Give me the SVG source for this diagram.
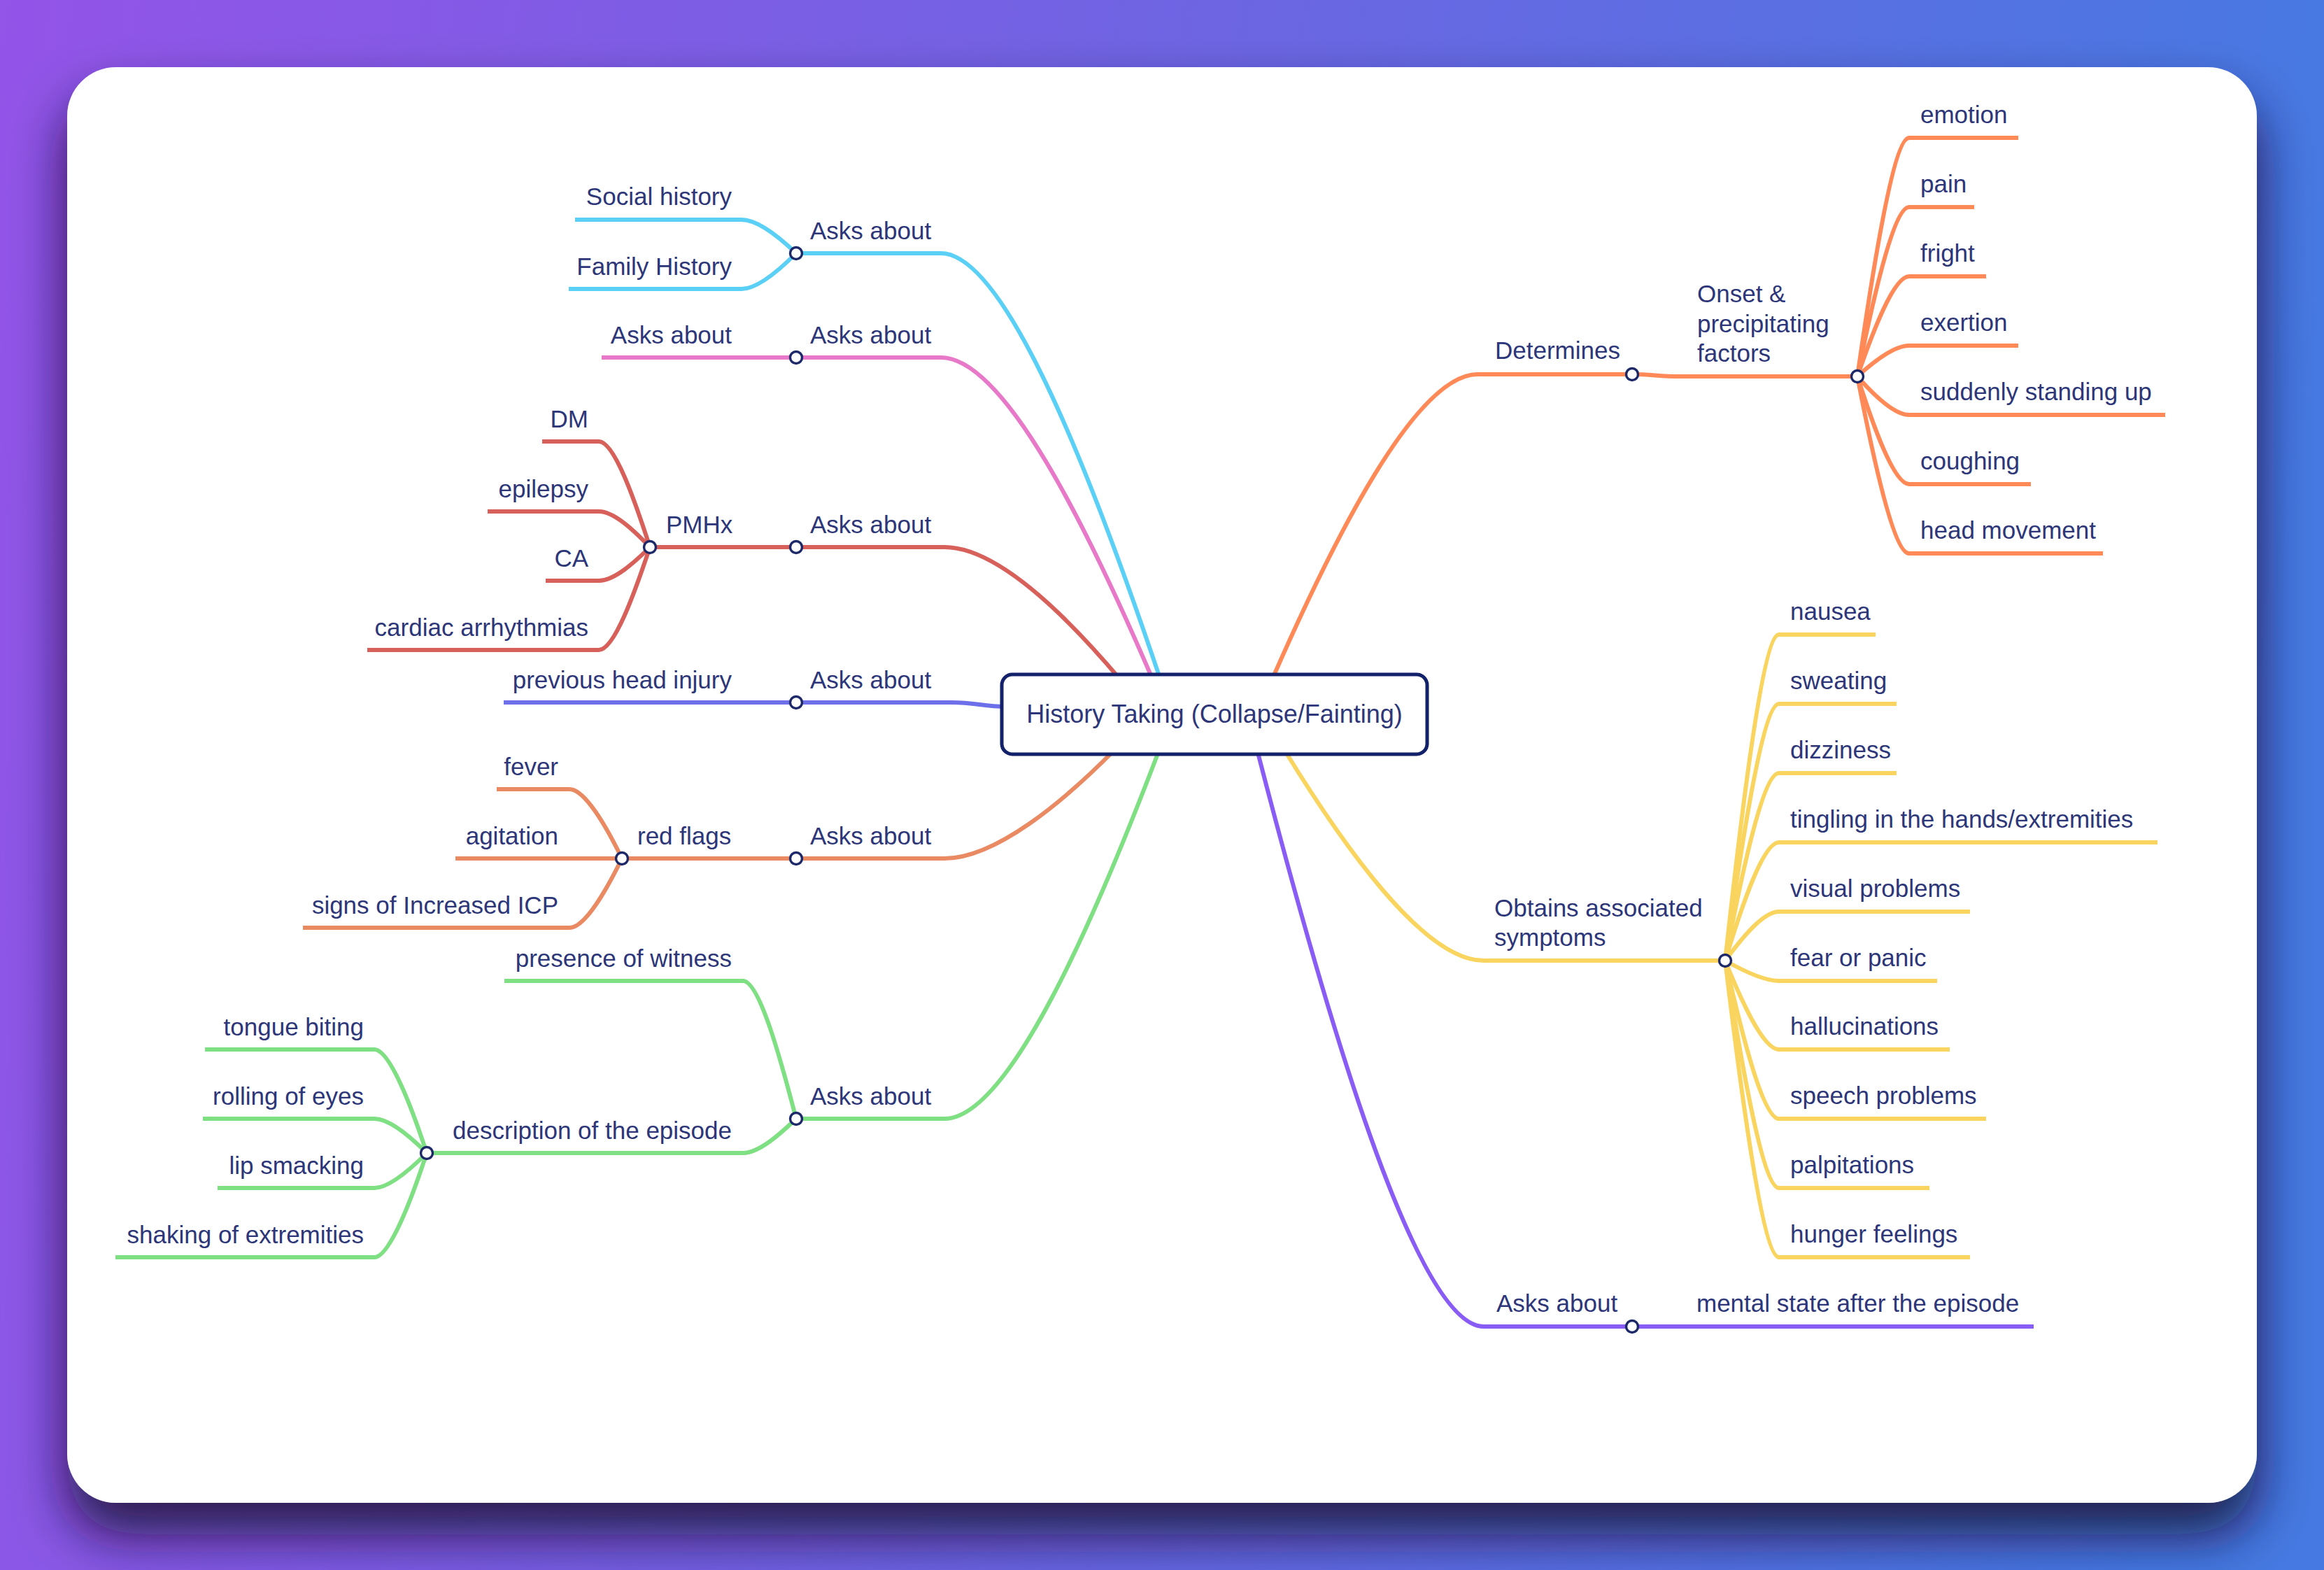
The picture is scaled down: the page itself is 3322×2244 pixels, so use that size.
<svg xmlns="http://www.w3.org/2000/svg" width="3322" height="2244" viewBox="0 0 3322 2244">
<defs>
<linearGradient id="bg" gradientUnits="userSpaceOnUse" x1="0" y1="0" x2="3322" y2="500">
<stop offset="0" stop-color="#9354E8"/>
<stop offset="0.5" stop-color="#6E64E2"/>
<stop offset="1" stop-color="#4679E2"/>
</linearGradient>
<filter id="shadow" x="-10%" y="-10%" width="120%" height="130%">
<feDropShadow dx="0" dy="45" stdDeviation="38" flood-color="#120830" flood-opacity="0.85"/>
</filter>
<style>
.t{font-family:"Liberation Sans",Arial,sans-serif;font-size:35px;fill:#2c3678}
.e{text-anchor:end}
.c{fill:none;stroke-width:6;stroke-linecap:butt;stroke-linejoin:round}
.h{fill:#fff;stroke:#1c2868;stroke-width:3.4}
.blue{stroke:#5AD0F6}.pink{stroke:#E878C8}.red{stroke:#D8605A}.ind{stroke:#6E70EA}
.rf{stroke:#E98A62}.grn{stroke:#7EDF83}.org{stroke:#FF8A57}.yel{stroke:#F9D45E}.pur{stroke:#8A5CF6}
</style>
</defs>
<rect x="0" y="0" width="3322" height="2244" fill="url(#bg)"/>
<rect x="96" y="96" width="3130" height="2052" rx="70" ry="70" fill="#fff" filter="url(#shadow)"/>

<g id="connectors">
<!-- blue -->
<path class="c blue" d="M1138,362 L1345,362 C1439,362 1565,693 1659,972"/>
<path class="c blue" d="M822,314 L1060,314 C1083,314 1115,340 1138,362"/>
<path class="c blue" d="M813,413 L1060,413 C1083,413 1115,385 1138,362"/>
<!-- pink -->
<path class="c pink" d="M860,511 L1345,511 C1436,511 1557,760 1648,972"/>
<!-- red PMHx -->
<path class="c red" d="M929,782 L1350,782 C1426,782 1526,882 1602,972"/>
<path class="c red" d="M775,631 L856,631 C878,631 907,714 929,782"/>
<path class="c red" d="M697,731 L856,731 C878,731 907,759 929,782"/>
<path class="c red" d="M780,830 L856,830 C878,830 907,804 929,782"/>
<path class="c red" d="M525,929 L856,929 C878,929 907,848 929,782"/>
<!-- indigo -->
<path class="c ind" d="M720,1004 L1360,1004 C1395,1004 1405,1010 1438,1010"/>
<!-- red flags -->
<path class="c rf" d="M651,1227 L1350,1227 C1423,1227 1520,1146 1593,1072"/>
<path class="c rf" d="M710,1128 L814,1128 C836,1128 867,1182 889,1227"/>
<path class="c rf" d="M433,1326 L814,1326 C836,1326 867,1272 889,1227"/>
<!-- green -->
<path class="c grn" d="M610,1648 L1062,1648 C1085,1648 1115,1621 1138,1599 L1350,1599 C1442,1599 1565,1314 1657,1072"/>
<path class="c grn" d="M721,1402 L1062,1402 C1085,1402 1115,1510 1138,1599"/>
<path class="c grn" d="M293,1500 L535,1500 C557,1500 588,1581 610,1648"/>
<path class="c grn" d="M290,1599 L535,1599 C557,1599 588,1626 610,1648"/>
<path class="c grn" d="M311,1698 L535,1698 C557,1698 588,1670 610,1648"/>
<path class="c grn" d="M165,1797 L535,1797 C557,1797 588,1715 610,1648"/>
<!-- orange right -->
<path class="c org" d="M1818,972 C1906,771 2024,535 2112,535 L2333,535 C2360,535 2372,538 2400,538 L2655,538"/>
<path class="c org" d="M2655,538 C2677,385 2707,197 2729,197 L2885,197"/>
<path class="c org" d="M2655,538 C2677,429 2707,296 2729,296 L2822,296"/>
<path class="c org" d="M2655,538 C2677,474 2707,395 2729,395 L2839,395"/>
<path class="c org" d="M2655,538 C2677,518 2707,494 2729,494 L2885,494"/>
<path class="c org" d="M2655,538 C2677,563 2707,593 2729,593 L3095,593"/>
<path class="c org" d="M2655,538 C2677,607 2707,692 2729,692 L2903,692"/>
<path class="c org" d="M2655,538 C2677,652 2707,791 2729,791 L3006,791"/>
<!-- yellow -->
<path class="c yel" d="M1836,1072 C1922,1212 2036,1373 2121,1373 L2466,1373"/>
<path class="c yel" d="M2466,1373 C2489,1163 2520,907 2543,907 L2681,907"/>
<path class="c yel" d="M2466,1373 C2489,1208 2520,1006 2543,1006 L2711,1006"/>
<path class="c yel" d="M2466,1373 C2489,1252 2520,1105 2543,1105 L2711,1105"/>
<path class="c yel" d="M2466,1373 C2489,1297 2520,1204 2543,1204 L3084,1204"/>
<path class="c yel" d="M2466,1373 C2489,1342 2520,1303 2543,1303 L2816,1303"/>
<path class="c yel" d="M2466,1373 C2489,1386 2520,1402 2543,1402 L2769,1402"/>
<path class="c yel" d="M2466,1373 C2489,1430 2520,1500 2543,1500 L2787,1500"/>
<path class="c yel" d="M2466,1373 C2489,1475 2520,1599 2543,1599 L2839,1599"/>
<path class="c yel" d="M2466,1373 C2489,1519 2520,1698 2543,1698 L2758,1698"/>
<path class="c yel" d="M2466,1373 C2489,1564 2520,1797 2543,1797 L2816,1797"/>
<!-- purple -->
<path class="c pur" d="M1797,1072 C1894,1447 2024,1896 2121,1896 L2907,1896"/>
<g id="handles">
<circle class="h" cx="1138" cy="362" r="8.5"/>
<circle class="h" cx="1138" cy="511" r="8.5"/>
<circle class="h" cx="1138" cy="782" r="8.5"/>
<circle class="h" cx="929" cy="782" r="8.5"/>
<circle class="h" cx="1138" cy="1004" r="8.5"/>
<circle class="h" cx="1138" cy="1227" r="8.5"/>
<circle class="h" cx="889" cy="1227" r="8.5"/>
<circle class="h" cx="1138" cy="1599" r="8.5"/>
<circle class="h" cx="610" cy="1648" r="8.5"/>
<circle class="h" cx="2333" cy="535" r="8.5"/>
<circle class="h" cx="2655" cy="538" r="8.5"/>
<circle class="h" cx="2466" cy="1373" r="8.5"/>
<circle class="h" cx="2333" cy="1896" r="8.5"/>
</g>
</g>

<g id="root">
<rect x="1432" y="964" width="608" height="114" rx="15" ry="15" fill="#fff" stroke="#13206a" stroke-width="5"/>
<text class="t" x="1736" y="1033" text-anchor="middle" style="font-size:36px">History Taking (Collapse/Fainting)</text>
</g>

<g id="n-asks1"><text class="t" x="1158" y="342">Asks about</text></g>
<g id="n-social"><text class="t e" x="1046" y="293">Social history</text></g>
<g id="n-family"><text class="t e" x="1046" y="393">Family History</text></g>

<g id="n-asks2"><text class="t" x="1158" y="491">Asks about</text></g>
<g id="n-asks2child"><text class="t e" x="1046" y="491">Asks about</text></g>

<g id="n-asks3"><text class="t" x="1158" y="762">Asks about</text></g>
<g id="n-pmhx"><text class="t" x="952" y="762">PMHx</text></g>
<g id="n-dm"><text class="t e" x="841" y="611">DM</text></g>
<g id="n-epilepsy"><text class="t e" x="841" y="711">epilepsy</text></g>
<g id="n-ca"><text class="t e" x="841" y="810">CA</text></g>
<g id="n-cardiac"><text class="t e" x="841" y="909">cardiac arrhythmias</text></g>

<g id="n-asks4"><text class="t" x="1158" y="984">Asks about</text></g>
<g id="n-headinjury"><text class="t e" x="1046" y="984">previous head injury</text></g>

<g id="n-asks5"><text class="t" x="1158" y="1207">Asks about</text></g>
<g id="n-redflags"><text class="t" x="911" y="1207">red flags</text></g>
<g id="n-fever"><text class="t e" x="798" y="1108">fever</text></g>
<g id="n-agitation"><text class="t e" x="798" y="1207">agitation</text></g>
<g id="n-icp"><text class="t e" x="798" y="1306">signs of Increased ICP</text></g>

<g id="n-asks6"><text class="t" x="1158" y="1579">Asks about</text></g>
<g id="n-witness"><text class="t e" x="1046" y="1382">presence of witness</text></g>
<g id="n-description"><text class="t e" x="1046" y="1628">description of the episode</text></g>
<g id="n-tongue"><text class="t e" x="520" y="1480">tongue biting</text></g>
<g id="n-eyes"><text class="t e" x="520" y="1579">rolling of eyes</text></g>
<g id="n-lip"><text class="t e" x="520" y="1678">lip smacking</text></g>
<g id="n-shaking"><text class="t e" x="520" y="1777">shaking of extremities</text></g>

<g id="n-determines"><text class="t" x="2137" y="513">Determines</text></g>
<g id="n-onset"><text class="t" x="2426" y="432">Onset &amp;</text><text class="t" x="2426" y="475">precipitating</text><text class="t" x="2426" y="517">factors</text></g>
<g id="n-emotion"><text class="t" x="2745" y="176">emotion</text></g>
<g id="n-pain"><text class="t" x="2745" y="275">pain</text></g>
<g id="n-fright"><text class="t" x="2745" y="374">fright</text></g>
<g id="n-exertion"><text class="t" x="2745" y="473">exertion</text></g>
<g id="n-standing"><text class="t" x="2745" y="572">suddenly standing up</text></g>
<g id="n-coughing"><text class="t" x="2745" y="671">coughing</text></g>
<g id="n-headmove"><text class="t" x="2745" y="770">head movement</text></g>

<g id="n-obtains"><text class="t" x="2136" y="1310">Obtains associated</text><text class="t" x="2136" y="1352">symptoms</text></g>
<g id="n-nausea"><text class="t" x="2559" y="886">nausea</text></g>
<g id="n-sweating"><text class="t" x="2559" y="985">sweating</text></g>
<g id="n-dizziness"><text class="t" x="2559" y="1084">dizziness</text></g>
<g id="n-tingling"><text class="t" x="2559" y="1183">tingling in the hands/extremities</text></g>
<g id="n-visual"><text class="t" x="2559" y="1282">visual problems</text></g>
<g id="n-fear"><text class="t" x="2559" y="1381">fear or panic</text></g>
<g id="n-halluc"><text class="t" x="2559" y="1479">hallucinations</text></g>
<g id="n-speech"><text class="t" x="2559" y="1578">speech problems</text></g>
<g id="n-palp"><text class="t" x="2559" y="1677">palpitations</text></g>
<g id="n-hunger"><text class="t" x="2559" y="1776">hunger feelings</text></g>

<g id="n-asks7"><text class="t" x="2139" y="1875">Asks about</text></g>
<g id="n-mental"><text class="t" x="2425" y="1875">mental state after the episode</text></g>
</svg>
